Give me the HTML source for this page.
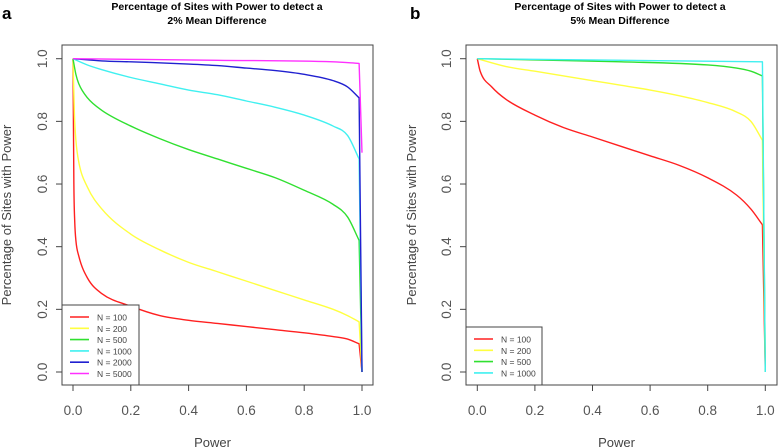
<!DOCTYPE html>
<html><head><meta charset="utf-8">
<style>
html,body{margin:0;padding:0;background:#fff;}
svg{display:block;font-family:"Liberation Sans",Arial,sans-serif;}
</style></head>
<body>
<svg id="chart" width="778" height="448" viewBox="0 0 778 448" xmlns="http://www.w3.org/2000/svg">
<text x="2" y="19" font-size="17" font-weight="bold">a</text>
<text x="217" y="10" font-size="10.5" font-weight="bold" text-anchor="middle">Percentage of Sites with Power to detect a</text>
<text x="217" y="24" font-size="10.5" font-weight="bold" text-anchor="middle">2% Mean Difference</text>
<text x="410" y="19" font-size="17" font-weight="bold">b</text>
<text x="620" y="10" font-size="10.5" font-weight="bold" text-anchor="middle">Percentage of Sites with Power to detect a</text>
<text x="620" y="24" font-size="10.5" font-weight="bold" text-anchor="middle">5% Mean Difference</text>
</svg>
<script>
// Panel a data
const seriesNamesA = ["N = 100","N = 200","N = 500","N = 1000","N = 2000","N = 5000"];
const colorsA = ["#ff2020","#ffff40","#30e030","#40f0f0","#2020d0","#ff30ff"];
const redAX = [0,0.003,0.006,0.01,0.02,0.05,0.1,0.2,0.3,0.4,0.5,0.6,0.7,0.8,0.9,0.95,0.99,1.0];
const redAY = [1.0,0.6,0.48,0.42,0.37,0.3,0.25,0.21,0.18,0.165,0.155,0.145,0.135,0.125,0.113,0.105,0.09,0.0];
const yelAX = [0,0.005,0.01,0.02,0.05,0.1,0.2,0.3,0.4,0.5,0.6,0.7,0.8,0.9,0.95,0.99,1.0];
const yelAY = [1.0,0.82,0.74,0.67,0.59,0.52,0.44,0.39,0.35,0.32,0.29,0.26,0.23,0.2,0.18,0.16,0.0];
const grnAX = [0,0.01,0.02,0.05,0.1,0.2,0.3,0.4,0.5,0.6,0.7,0.8,0.9,0.95,0.99,1.0];
const grnAY = [1.0,0.95,0.92,0.875,0.835,0.785,0.745,0.71,0.68,0.65,0.62,0.58,0.535,0.495,0.42,0.0];
const cyaAX = [0,0.05,0.1,0.2,0.3,0.4,0.5,0.6,0.7,0.8,0.9,0.95,0.99,1.0];
const cyaAY = [1.0,0.98,0.965,0.94,0.92,0.9,0.885,0.865,0.845,0.82,0.785,0.755,0.68,0.0];
const bluAX = [0,0.1,0.2,0.4,0.5,0.6,0.7,0.8,0.9,0.95,0.99,1.0];
const bluAY = [1.0,0.993,0.99,0.983,0.978,0.97,0.962,0.95,0.93,0.91,0.875,0.0];
const magAX = [0,0.5,0.9,0.99,1.0];
const magAY = [1.0,0.995,0.99,0.985,0.7];
// Panel b data
const seriesNamesB = ["N = 100","N = 200","N = 500","N = 1000"];
const colorsB = ["#ff2020","#ffff40","#30e030","#40f0f0"];
const redBX = [0,0.01,0.05,0.1,0.2,0.3,0.4,0.5,0.6,0.7,0.8,0.9,0.95,0.99,1.0];
const redBY = [1.0,0.96,0.91,0.87,0.82,0.78,0.75,0.72,0.69,0.66,0.62,0.565,0.52,0.47,0.0];
const yelBX = [0,0.1,0.2,0.3,0.4,0.5,0.6,0.7,0.8,0.9,0.95,0.99,1.0];
const yelBY = [1.0,0.975,0.96,0.945,0.93,0.915,0.9,0.882,0.86,0.83,0.8,0.74,0.0];
const grnBX = [0,0.5,0.8,0.9,0.95,0.99,1.0];
const grnBY = [1.0,0.99,0.98,0.97,0.96,0.945,0.0];
const cyaBX = [0,0.99,1.0];
const cyaBY = [1.0,0.99,0.0];
const xTicks = ["0.0","0.2","0.4","0.6","0.8","1.0"];
const yTicks = ["0.0","0.2","0.4","0.6","0.8","1.0"];

const NS="http://www.w3.org/2000/svg";
const svg=document.getElementById('chart');
function mk(tag,attrs,parent){const e=document.createElementNS(NS,tag);for(const k in attrs)e.setAttribute(k,attrs[k]);(parent||svg).appendChild(e);return e;}

// monotone cubic path (Fritsch-Carlson) in pixel space; final drop segment drawn straight
function monoPath(Pall){
  const last=Pall[Pall.length-1];
  const P=Pall.slice(0,-1);
  const n=P.length;
  let s='M'+P[0][0].toFixed(2)+','+P[0][1].toFixed(2);
  if(n<3){
    for(let i=1;i<n;i++) s+=' L'+P[i][0].toFixed(2)+','+P[i][1].toFixed(2);
  } else {
    const d=[],m=[];
    for(let i=0;i<n-1;i++){const dx=P[i+1][0]-P[i][0];d.push(dx===0?0:(P[i+1][1]-P[i][1])/dx);}
    m[0]=d[0];m[n-1]=d[n-2];
    for(let i=1;i<n-1;i++){m[i]=(d[i-1]*d[i]<=0)?0:(d[i-1]+d[i])/2;}
    for(let i=0;i<n-1;i++){
      if(d[i]===0){m[i]=0;m[i+1]=0;continue;}
      const a=m[i]/d[i],b=m[i+1]/d[i],q=a*a+b*b;
      if(q>9){const t=3/Math.sqrt(q);m[i]=t*a*d[i];m[i+1]=t*b*d[i];}
    }
    for(let i=0;i<n-1;i++){
      const h=(P[i+1][0]-P[i][0])/3;
      s+=' C'+(P[i][0]+h).toFixed(2)+','+(P[i][1]+m[i]*h).toFixed(2)+' '+(P[i+1][0]-h).toFixed(2)+','+(P[i+1][1]-m[i+1]*h).toFixed(2)+' '+P[i+1][0].toFixed(2)+','+P[i+1][1].toFixed(2);
    }
  }
  s+=' L'+last[0].toFixed(2)+','+last[1].toFixed(2);
  return s;
}

function panel(p, prefix, xs, ys, cols, names, legTop){
  const sx=v=>p.x0+v*(p.x1-p.x0);
  const sy=v=>p.y0+v*(p.y1-p.y0);
  const g=mk('g',{});
  
  
  for(let i=0;i<xs.length;i++){
    const pts=xs[i].map((v,j)=>[sx(v),sy(ys[i][j])]);
    const pl=mk('path',{d:monoPath(pts),fill:'none',stroke:cols[i],'stroke-width':1.4,'stroke-linejoin':'round'},g);
    
    
  }
  const box=mk('rect',{x:p.bx0,y:p.by0,width:p.bx1-p.bx0,height:p.by1-p.by0,fill:'none',stroke:'#444','stroke-width':1},g);
  
  
  const xl=mk('line',{x1:sx(0),x2:sx(1),y1:p.by1,y2:p.by1,stroke:'#444'},g);
  
  
  xTicks.forEach((t,i)=>{
    const v=parseFloat(t);
    mk('line',{x1:sx(v),x2:sx(v),y1:p.by1,y2:p.by1+6,stroke:'#444'},g);
    const tx=mk('text',{x:sx(v),y:p.by1+30,'font-size':13.5,fill:'#555','text-anchor':'middle'},g);
    tx.textContent=t;
    
    
  });
  yTicks.forEach(t=>{
    const v=parseFloat(t);
    mk('line',{x1:p.bx0-6,x2:p.bx0,y1:sy(v),y2:sy(v),stroke:'#444'},g);
    const tx=mk('text',{x:0,y:0,'font-size':13.5,fill:'#555','text-anchor':'middle',transform:`translate(${p.bx0-15},${sy(v)}) rotate(-90)`},g);
    tx.textContent=t;
    
    
  });
  const xt=mk('text',{x:(p.bx0+p.bx1)/2-5,y:447,'font-size':13,fill:'#444','text-anchor':'middle'},g);
  xt.textContent='Power';
  
  
  const yt=mk('text',{x:0,y:0,'font-size':13,fill:'#444','text-anchor':'middle',transform:`translate(${p.ytx},215) rotate(-90)`},g);
  yt.textContent='Percentage of Sites with Power';
  
  
  const lg=mk('g',{},g);
  
  
  mk('rect',{x:p.bx0,y:legTop,width:p.legW,height:p.by1-legTop,fill:'#fff',stroke:'#444'},lg);
  names.forEach((n,i)=>{
    const yy=legTop+12+i*11.3;
    const e=mk('g',{},lg);
    
    
    mk('line',{x1:p.bx0+8,x2:p.bx0+27,y1:yy,y2:yy,stroke:cols[i],'stroke-width':1.6},e);
    const tx=mk('text',{x:p.bx0+35,y:yy+3.5,'font-size':8.5,fill:'#444'},e);
    tx.textContent=n;
  });
}
panel({x0:73,x1:362,y0:372,y1:58.7,bx0:62,bx1:373,by0:45,by1:385,ytx:11,legW:77}, 'panel-a',
  [redAX,yelAX,grnAX,cyaAX,bluAX,magAX],[redAY,yelAY,grnAY,cyaAY,bluAY,magAY],colorsA,seriesNamesA,305);
panel({x0:477.3,x1:765.3,y0:372,y1:58.7,bx0:466,bx1:777,by0:45,by1:385,ytx:416,legW:76}, 'panel-b',
  [redBX,yelBX,grnBX,cyaBX],[redBY,yelBY,grnBY,cyaBY],colorsB,seriesNamesB,327);
</script>
</body></html>
